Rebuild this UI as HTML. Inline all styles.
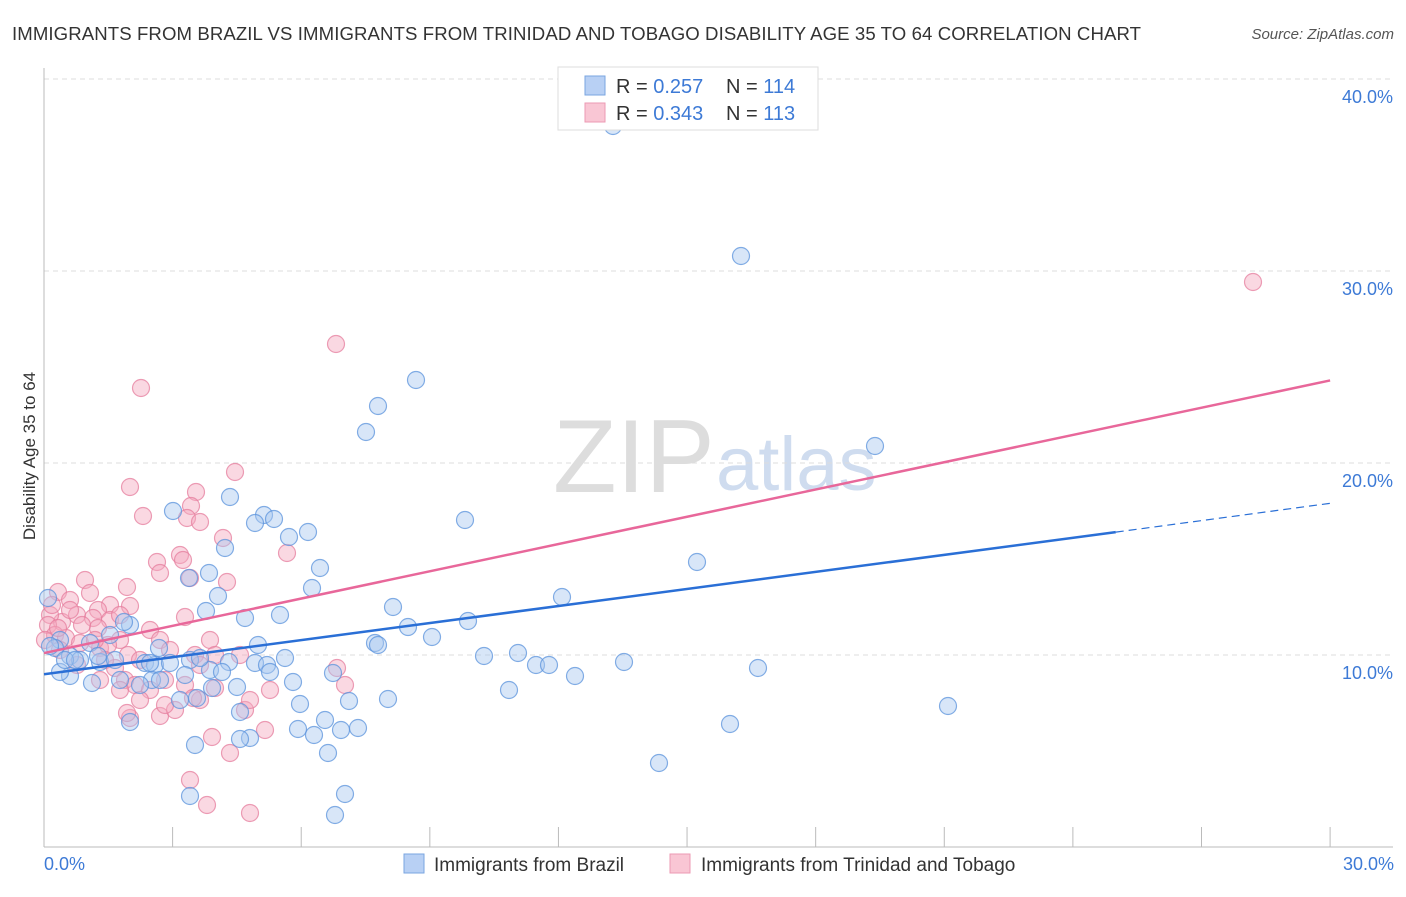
<!DOCTYPE html>
<html><head><meta charset="utf-8"><style>
body{margin:0;background:#fff;font-family:"Liberation Sans",sans-serif;}
svg text{font-family:"Liberation Sans",sans-serif;}
</style></head><body>
<svg id="chart" width="1406" height="892">
<text x="12" y="40" font-size="18.6" fill="#333" textLength="1129">IMMIGRANTS FROM BRAZIL VS IMMIGRANTS FROM TRINIDAD AND TOBAGO DISABILITY AGE 35 TO 64 CORRELATION CHART</text>
<text x="1394" y="39" font-size="15" fill="#555" font-style="italic" text-anchor="end">Source: ZipAtlas.com</text>
<text x="35" y="456" font-size="17" fill="#333" transform="rotate(-90 35 456)" text-anchor="middle">Disability Age 35 to 64</text>
<text x="553" y="492" font-size="104" fill="#ddd" font-family="Liberation Serif">ZIP</text>
<text x="716" y="490" font-size="76" fill="#cfdcef">atlas</text>
<g id="grid"></g><g id="pts"></g><g id="lines"></g>
<g>
<rect x="558" y="67" width="260" height="63" fill="#fff" stroke="#ddd"/>
<rect x="585" y="76" width="20" height="19" fill="#b8d0f4" stroke="#7aa6e0"/>
<rect x="585" y="103" width="20" height="19" fill="#f9c6d4" stroke="#ec9ab3"/>
<text x="616" y="93" font-size="20" fill="#333">R = <tspan fill="#3d7ad6">0.257</tspan><tspan x="726">N = </tspan><tspan fill="#3d7ad6">114</tspan></text>
<text x="616" y="120" font-size="20" fill="#333">R = <tspan fill="#3d7ad6">0.343</tspan><tspan x="726">N = </tspan><tspan fill="#3d7ad6">113</tspan></text>
</g>
<g>
<rect x="404" y="854" width="20" height="19" fill="#b8d0f4" stroke="#7aa6e0"/>
<text x="434" y="871" font-size="19" fill="#333">Immigrants from Brazil</text>
<rect x="670" y="854" width="20" height="19" fill="#f9c6d4" stroke="#ec9ab3"/>
<text x="701" y="871" font-size="19" fill="#333">Immigrants from Trinidad and Tobago</text>
</g>
<text x="44" y="870" font-size="18" fill="#3d7ad6">0.0%</text>
<text x="1394" y="870" font-size="18" fill="#3d7ad6" text-anchor="end">30.0%</text>
</svg>
<script>
const yTicks=[10,20,30,40];
const yTickLabels=["10.0%","20.0%","30.0%","40.0%"];
const blueX=[613,741,416,378,366,875,465,697,562,393,408,432,468,375,378,484,518,536,549,575,624,758,509,730,948,659,230,173,264,255,274,308,289,225,320,209,189,312,218,280,245,206,258,130,124,159,110,90,60,55,70,80,100,115,145,155,170,190,210,229,255,267,285,270,293,333,349,388,300,325,298,314,341,358,328,240,250,240,195,190,345,335,212,237,180,197,152,140,120,130,92,70,60,65,50,48,75,98,150,160,185,222,200].map(p=>(p-44)/42.87);
const blueY=[126,256,380,406,432,446,520,562,597,607,627,637,621,643,645,656,653,665,665,676,662,668,690,724,706,763,497,511,515,523,519,532,537,548,568,573,578,588,596,615,618,611,645,625,622,648,635,643,640,648,656,660,662,660,663,665,663,660,670,662,663,665,658,672,682,673,701,699,704,720,729,735,730,728,753,712,738,739,745,796,794,815,688,687,700,698,680,685,680,722,683,676,672,660,646,598,660,656,663,680,675,672,658].map(p=>(847-p)/19.2);
const pinkX=[1253,336,141,235,130,196,191,143,187,200,223,287,180,157,183,160,190,227,127,85,58,70,90,110,130,98,77,62,50,48,55,66,80,100,120,150,160,185,170,195,210,240,93,110,120,98,108,128,140,115,125,135,150,165,185,200,120,130,160,175,215,245,270,345,337,127,193,190,207,250,212,230,265,250,58,70,82,95,105,52,45,60,77,100,140,165,200,215].map(p=>(p-44)/42.87);
const pinkY=[282,344,388,472,487,492,506,516,518,522,538,553,555,562,560,573,578,582,587,580,592,600,593,605,606,610,615,622,615,625,635,638,643,648,640,630,640,617,650,655,640,655,618,620,615,628,645,655,660,668,680,685,690,680,685,700,690,718,716,710,688,710,690,685,668,713,698,780,805,813,737,753,730,700,628,610,625,640,660,605,640,650,665,680,700,705,665,655].map(p=>(847-p)/19.2);
const blueLine=[[0,9.0],[25,16.4],[30,17.9]];
const pinkLine=[[0,10.1],[30,24.3]];
const X=v=>44+v*42.87, Y=v=>847-v*19.2;
const NS="http://www.w3.org/2000/svg";
function mk(tag,at,parent){const e=document.createElementNS(NS,tag);for(const k in at)e.setAttribute(k,at[k]);parent.appendChild(e);return e;}
const g=document.getElementById('grid');
yTicks.forEach((t,i)=>{
 const l=mk('line',{x1:44,x2:1393,y1:Y(t),y2:Y(t),stroke:'#ddd','stroke-dasharray':'5,4'},g);
 
 
 const tx=mk('text',{x:1393,y:Y(t)+24,'font-size':18,fill:'#3d7ad6','text-anchor':'end'},g);
 tx.textContent=yTickLabels[i];
 
 
});
const ax=mk('line',{x1:44,x2:44,y1:68,y2:847,stroke:'#bbb'},g);


const xa=mk('line',{x1:44,x2:1393,y1:847,y2:847,stroke:'#bbb'},g);


for(let i=0;i<=10;i++){const t=mk('line',{x1:X(i*3),x2:X(i*3),y1:827,y2:847,stroke:'#bbb'},g);
 
 }
const pg=document.getElementById('pts');
function pts(xs,ys,fill,stroke,name){xs.forEach((x,i)=>{const c=mk('circle',{cx:X(x),cy:Y(ys[i]),r:8.5,fill:fill,'fill-opacity':0.45,stroke:stroke,'stroke-opacity':0.75,'stroke-width':1.2},pg);
 
 });}
pts(pinkX,pinkY,'#f4a9bf','#e57d9e','trinidad-point');
pts(blueX,blueY,'#a9c8f0','#5b93dc','brazil-point');
const lg=document.getElementById('lines');
const b1=mk('line',{x1:X(blueLine[0][0]),y1:Y(blueLine[0][1]),x2:X(blueLine[1][0]),y2:Y(blueLine[1][1]),stroke:'#2a6fd6','stroke-width':2.5},lg);


const b2=mk('line',{x1:X(blueLine[1][0]),y1:Y(blueLine[1][1]),x2:X(blueLine[2][0]),y2:Y(blueLine[2][1]),stroke:'#2a6fd6','stroke-width':1.2,'stroke-dasharray':'8,5'},lg);


const p1=mk('line',{x1:X(pinkLine[0][0]),y1:Y(pinkLine[0][1]),x2:X(pinkLine[1][0]),y2:Y(pinkLine[1][1]),stroke:'#e8679a','stroke-width':2.5},lg);


</script>
</body></html>
